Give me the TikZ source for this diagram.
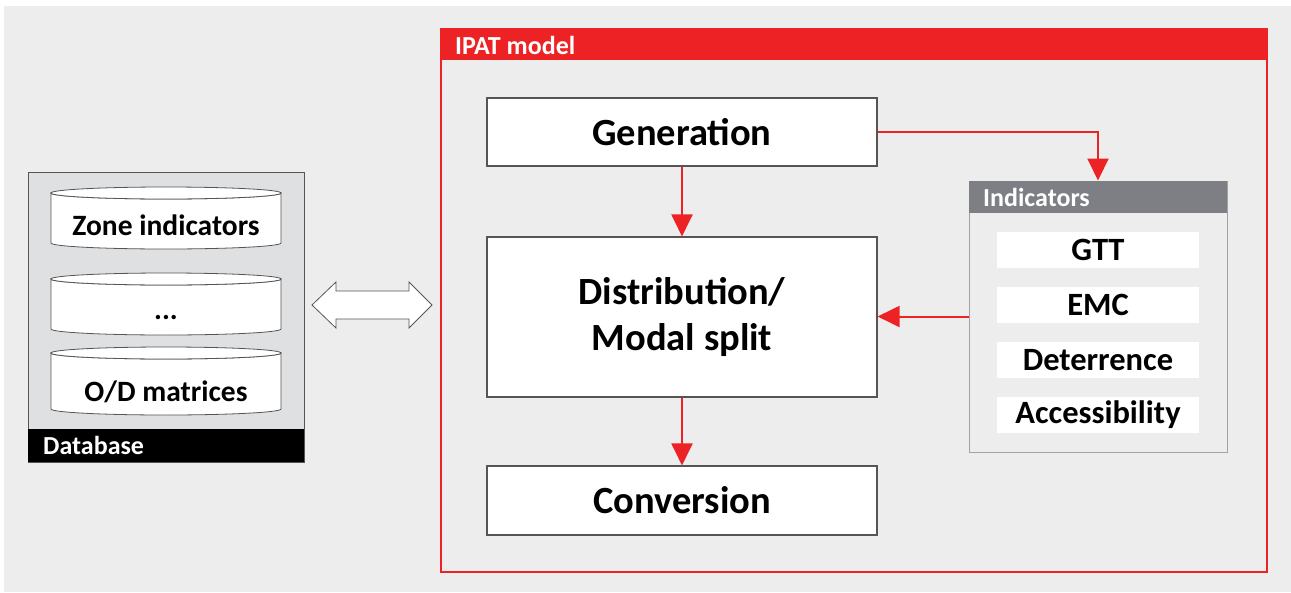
\documentclass[tikz,border=0pt]{standalone}
\usepackage{fontspec}
\setmainfont{Carlito}
\usetikzlibrary{arrows.meta}
\definecolor{bggray}{HTML}{ECEDEC}
\definecolor{ipatred}{HTML}{EC2224}
\definecolor{hdrgray}{HTML}{7E7F84}
\definecolor{dbgray}{HTML}{DFE0E2}
\definecolor{framegray}{HTML}{A2A2A4}
\definecolor{boxline}{HTML}{555555}
\begin{document}
\begin{tikzpicture}[x=1pt,y=-1pt,
  procbox/.style={draw=boxline, line width=1.1pt, fill=white, inner sep=0pt,
    align=center, font=\bfseries\fontsize{38.5}{46}\selectfont},
  item/.style={fill=white, inner sep=0pt, minimum width=202pt, minimum height=36pt,
    font=\bfseries\fontsize{32.5}{34}\selectfont},
  hdrtext/.style={anchor=west, inner sep=0pt, text=white, font=\bfseries\fontsize{26}{28}\selectfont},
  cyl/.style={draw=boxline, line width=0.8pt, fill=white},
  cyltext/.style={inner sep=0pt, font=\bfseries\fontsize{29.5}{32}\selectfont},
  flow/.style={draw=ipatred, line width=2pt, -{Triangle[length=22pt,width=21pt]}},
  link/.style={draw=boxline, line width=0.8pt, fill=white, line join=miter}
]
\useasboundingbox (0,0) rectangle (1291,592);
\fill[bggray] (4,6) rectangle (1291,592);

% IPAT model frame
\node[draw=ipatred, line width=1.6pt, minimum width=826pt, minimum height=543pt, inner sep=0pt]
  (ipat) at (854,300.5) {};
\node[fill=ipatred, minimum width=826pt, minimum height=32pt, inner sep=0pt, anchor=north]
  (ipathdr) at (ipat.north) {};
\node[hdrtext] (ipatlabel) at (455,45) {IPAT model};

% Process steps
\node[procbox, minimum width=390pt, minimum height=68pt] (gen) at (682,132) {Generation};
\node[procbox, minimum width=390pt, minimum height=160pt] (dist) at (682,317) {Distribution/\\Modal split};
\node[procbox, minimum width=390pt, minimum height=69pt] (conv) at (682,500.5) {Conversion};

% Indicators panel
\node[draw=framegray, line width=1pt, minimum width=258pt, minimum height=271pt, inner sep=0pt]
  (ind) at (1098,316.5) {};
\node[fill=hdrgray, minimum width=258pt, minimum height=32pt, inner sep=0pt, anchor=north]
  (indhdr) at (ind.north) {};
\node[hdrtext] (indlabel) at (983,197) {Indicators};
\node[item] (gtt) at (1098,250) {GTT};
\node[item] (emc) at (1098,305) {EMC};
\node[item] (det) at (1098,360) {Deterrence};
\node[item] (acc) at (1098,415) {Accessibility};

% Database panel
\node[draw=boxline, line width=1pt, fill=dbgray, minimum width=276pt, minimum height=290pt, inner sep=0pt]
  (db) at (166,317) {};
\node[fill=black, minimum width=276pt, minimum height=33pt, inner sep=0pt, anchor=south]
  (dbhdr) at (db.south) {};
\node[hdrtext] (dblabel) at (43,445.5) {Database};

% Database tables drawn as cylinders
\foreach \yt/\yb in {193/243, 279/329, 353/409}{
  \path[cyl] (51,\yt) -- (51,\yb)
    arc[start angle=180, end angle=0, x radius=115, y radius=6]
    -- (281,\yt) arc[start angle=0, end angle=180, x radius=115, y radius=6] -- cycle;
  \draw[cyl] (166,\yt) ellipse[x radius=115, y radius=6];
}
\node[cyltext] (zone) at (166,225) {Zone indicators};
\node[cyltext] (more) at (166,318) {...};
\node[cyltext] (od) at (166,392) {O/D matrices};

% Data exchange between database and model
\path[link] (312,305) -- (336,282) -- (336,291) -- (409,291) -- (409,282) -- (432,305)
  -- (409,328) -- (409,319) -- (336,319) -- (336,328) -- cycle;

% Flows
\draw[flow] (gen.south) -- (dist.north);
\draw[flow] (dist.south) -- (conv.north);
\draw[flow] (gen.east) -| (indhdr.north);
\draw[flow] (ind.west) -- (ind.west -| dist.east);
\end{tikzpicture}
\end{document}
